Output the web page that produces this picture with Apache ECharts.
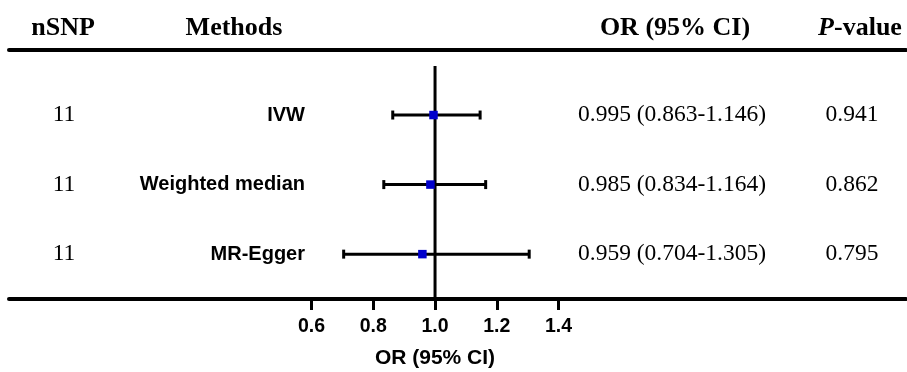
<!DOCTYPE html>
<html><head><meta charset="utf-8">
<script src="https://cdn.jsdelivr.net/npm/echarts@6/dist/echarts.min.js"></script>
<style>html,body{margin:0;padding:0;background:#fff}#c{width:907px;height:372px}</style>
</head><body><div id="c"></div>
<script>
// ---- data ----
const methods = ['IVW', 'Weighted median', 'MR-Egger'];
const nsnp = [11, 11, 11];
const orVals = [0.995, 0.985, 0.959];
const lowerCI = [0.863, 0.834, 0.704];
const upperCI = [1.146, 1.164, 1.305];
const pValues = ['0.941', '0.862', '0.795'];
const headers = ['nSNP', 'Methods', 'OR (95% CI)', 'P-value'];
const xTicks = [0.6, 0.8, 1.0, 1.2, 1.4];
const refValue = 1;
const axisTitle = 'OR (95% CI)';

// ---- chart ----
const SERIF = '"Liberation Serif","Times New Roman",serif';
const SANS = '"Liberation Sans",Arial,sans-serif';
const chart = echarts.init(document.getElementById('c'), null, {renderer: 'canvas'});
const rows = methods.map((m, i) => i + 1);
const forestData = methods.map((m, i) => [orVals[i], rows[i], lowerCI[i], upperCI[i]]);
const textData = methods.map((m, i) => [refValue, rows[i], i]);
const fmt = v => v.toFixed(3);

const X_MIN = -0.38, X_MAX = 2.5255, Y_MIN = 0.065, Y_MAX = 3.645;
const HEAD = {fontFamily: SERIF, fontWeight: 'bold', fontSize: 26, fill: '#000'};

const option = {
  animation: false,
  backgroundColor: '#fff',
  grid: {left: 9, right: 1, top: 50, height: 249},
  xAxis: [{
    type: 'value', min: X_MIN, max: X_MAX, position: 'bottom',
    splitLine: {show: false},
    axisLine: {onZero: false, lineStyle: {color: '#000', width: 4}},
    axisTick: {show: true, customValues: xTicks, length: 11, lineStyle: {color: '#000', width: 3}},
    axisLabel: {customValues: xTicks, formatter: v => Number(v).toFixed(1), fontFamily: SANS,
      fontWeight: 'bold', fontSize: 19.5, color: '#000', margin: 18}
  }, {
    type: 'value', min: X_MIN, max: X_MAX, position: 'top',
    splitLine: {show: false},
    axisLine: {onZero: false, lineStyle: {color: '#000', width: 4}},
    axisTick: {show: false}, axisLabel: {show: false}
  }],
  yAxis: {type: 'value', inverse: true, min: Y_MIN, max: Y_MAX, show: false, splitLine: {show: false}},
  graphic: [
    {type: 'text', x: 63, y: 28, style: Object.assign({text: headers[0], align: 'center', verticalAlign: 'middle'}, HEAD)},
    {type: 'text', x: 234, y: 28, style: Object.assign({text: headers[1], align: 'center', verticalAlign: 'middle'}, HEAD)},
    {type: 'text', x: 675, y: 28, style: Object.assign({text: headers[2], align: 'center', verticalAlign: 'middle'}, HEAD)},
    {type: 'text', x: 860, y: 28, style: {text: '{i|' + headers[3].slice(0, 1) + '}{n|' + headers[3].slice(1) + '}',
      align: 'center', verticalAlign: 'middle', fill: '#000',
      rich: {
        i: {fontFamily: SERIF, fontWeight: 'bold', fontStyle: 'italic', fontSize: 26, fill: '#000'},
        n: {fontFamily: SERIF, fontWeight: 'bold', fontSize: 26, fill: '#000'}
      }}},
    {type: 'text', x: 435, y: 358, style: {text: axisTitle, align: 'center', verticalAlign: 'middle',
      fontFamily: SANS, fontWeight: 'bold', fontSize: 21, fill: '#000'}}
  ],
  series: [
    {
      type: 'line', data: [[refValue, 0.295], [refValue, Y_MAX]], symbol: 'none', silent: true,
      lineStyle: {color: '#000', width: 3}, z: 2
    },
    {
      type: 'custom', data: forestData, z: 3, silent: true,
      renderItem: (params, api) => {
        const y = api.value(1);
        const p = api.coord([api.value(0), y]);
        const lo = api.coord([api.value(2), y]);
        const hi = api.coord([api.value(3), y]);
        const cap = 4.5, sq = 8.5;
        const ls = {stroke: '#000', lineWidth: 3};
        return {type: 'group', children: [
          {type: 'line', shape: {x1: lo[0], y1: lo[1], x2: hi[0], y2: hi[1]}, style: ls},
          {type: 'line', shape: {x1: lo[0], y1: lo[1] - cap, x2: lo[0], y2: lo[1] + cap}, style: ls},
          {type: 'line', shape: {x1: hi[0], y1: hi[1] - cap, x2: hi[0], y2: hi[1] + cap}, style: ls},
          {type: 'rect', shape: {x: p[0] - sq / 2, y: p[1] - sq / 2, width: sq, height: sq},
            style: {fill: '#0000cc'}}
        ]};
      }
    },
    {
      type: 'custom', data: textData, z: 4, silent: true,
      renderItem: (params, api) => {
        const i = api.value(2);
        const yy = api.coord([api.value(0), api.value(1)])[1];
        const t = (text, x, align, family, weight, size) => ({
          type: 'text', x: x, y: yy,
          style: {text: text, align: align, verticalAlign: 'middle', fontFamily: family,
            fontWeight: weight, fontSize: size, fill: '#000'}
        });
        return {type: 'group', children: [
          t(String(nsnp[i]), 64, 'center', SERIF, 'normal', 23.5),
          t(methods[i], 305, 'right', SANS, 'bold', 20),
          t(fmt(orVals[i]) + ' (' + fmt(lowerCI[i]) + '-' + fmt(upperCI[i]) + ')', 672, 'center', SERIF, 'normal', 23.5),
          t(pValues[i], 852, 'center', SERIF, 'normal', 23.5)
        ]};
      }
    }
  ]
};
chart.setOption(option);
</script>
</body></html>
